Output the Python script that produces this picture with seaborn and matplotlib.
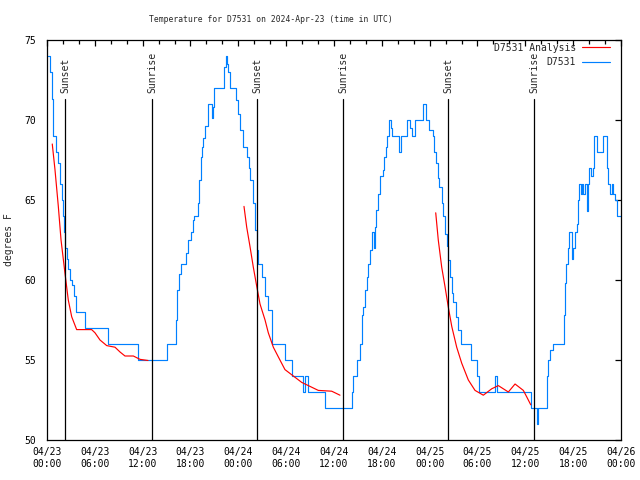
"""
plot.py
Station temperature vs analysis, with sunrise/sunset markers (gnuplot-style look).
"""

import matplotlib
matplotlib.use("Agg")
import matplotlib.pyplot as plt
import matplotlib.dates as mdates
import matplotlib.transforms as mtransforms
import pandas as pd
import seaborn as sns

START = pd.Timestamp("2024-04-23 00:00")

# observed temperature (hours since start, deg F) -- step changes
obs_hours = [
    0.16, 0.38, 0.59, 0.79, 1.13, 1.42, 1.63, 1.84, 2.01, 2.17, 2.32, 2.47, 2.63,
    2.89, 3.17, 3.39, 3.60, 4.77, 7.69, 11.45, 15.09, 16.12, 16.31, 16.56, 16.77,
    17.44, 17.69, 18.03, 18.35, 18.48, 18.98, 19.10, 19.28, 19.48, 19.61, 19.82,
    20.16, 20.23, 20.64, 20.76, 20.95, 22.24, 22.49, 22.62, 22.74, 22.96, 23.71,
    23.96, 24.21, 24.59, 25.05, 25.28, 25.46, 25.80, 26.09, 26.31, 26.51, 26.93,
    27.35, 27.76, 28.19, 29.85, 30.70, 32.15, 32.36, 32.78, 34.87, 38.22, 38.42,
    38.85, 39.26, 39.48, 39.68, 39.89, 40.10, 40.30, 40.52, 40.73, 40.81, 40.98,
    41.11, 41.31, 41.52, 41.73, 42.11, 42.27, 42.52, 42.69, 42.94, 43.11, 43.24,
    44.19, 44.41, 45.20, 45.53, 45.75, 46.16, 47.20, 47.54, 47.92, 48.38, 48.58,
    48.80, 49.01, 49.21, 49.51, 49.67, 49.92, 50.14, 50.34, 50.55, 50.77, 50.97,
    51.30, 51.59, 51.93, 53.15, 53.90, 54.19, 56.20, 56.41, 60.68, 61.43, 61.63,
    62.68, 62.88, 63.10, 63.43, 64.85, 64.98, 65.07, 65.39, 65.52, 65.82, 66.02,
    66.23, 66.45, 66.65, 66.77, 66.95, 67.07, 67.27, 67.49, 67.70, 67.90, 68.03,
    68.24, 68.45, 68.65, 68.95, 69.71, 70.21, 70.41, 70.62, 70.84, 71.04, 71.25,
    71.46, 72.00,
]
obs_temp = [
    74, 73, 71.3, 69, 68, 67.3, 66, 65, 64, 63, 62, 61.3, 60.7,
    60, 59.7, 59, 58, 57, 56, 55, 56, 57.5, 59.4, 60.4, 61,
    61.7, 62.5, 63, 63.75, 64, 64.8, 66.25, 67.7, 68.3, 68.85, 69.6,
    70.5, 71, 70.1, 70.8, 72, 73.3, 74, 73.5, 73, 72, 71.25,
    70.4, 69.4, 68.3, 67.7, 67, 66.25, 64.8, 63.1, 61.9, 61, 60.2,
    59, 58.1, 56, 55, 54, 53, 54, 53, 52, 53, 54,
    55, 56, 57.8, 58.3, 59.4, 60.2, 61, 61.9, 62.7, 63, 62,
    63.3, 64.4, 65.4, 66.5, 66.9, 67.7, 68.3, 69, 70, 69.5, 69,
    68, 69, 70, 69.5, 69, 70, 71, 70, 69.4, 69, 68,
    67.3, 66.4, 65.8, 64.8, 64, 62.9, 62.1, 61.25, 60.2, 59.2, 58.6,
    57.7, 56.9, 56, 55, 54, 53, 54, 53, 52, 51, 52,
    54, 55, 55.6, 56, 57.8, 59.8, 61, 62, 63, 61.3, 62,
    63, 63.5, 65, 66, 65.4, 66, 65.4, 66, 64.3, 66, 67,
    66.5, 67, 69, 68, 69, 67, 66, 65.4, 66, 65.4, 65,
    64, 64,
]

# analysis curves, one per evening
ana1_hours = [0.66, 1.00, 1.42, 1.76, 2.26, 2.67, 3.10, 3.72, 5.60, 6.02, 6.65,
              7.49, 8.53, 9.16, 9.78, 10.83, 11.67, 12.67]
ana1_temp = [68.5, 66.9, 64.6, 62.5, 60.4, 58.75, 57.7, 56.9, 56.9, 56.7, 56.25,
             55.9, 55.8, 55.5, 55.25, 55.25, 55.04, 54.97]
ana2_hours = [24.71, 25.05, 25.46, 25.88, 26.31, 26.72, 27.35, 27.76, 28.39, 29.01,
              29.85, 30.90, 31.95, 33.20, 34.03, 35.71, 36.13, 36.75]
ana2_temp = [64.6, 63.3, 62.1, 60.8, 59.6, 58.5, 57.5, 56.7, 55.8, 55.2,
             54.4, 54.0, 53.6, 53.3, 53.1, 53.05, 52.95, 52.8]
ana3_hours = [48.76, 49.08, 49.51, 49.92, 50.34, 50.77, 51.39, 52.02, 52.85, 53.69,
              54.73, 55.78, 56.61, 57.87, 58.71, 59.75, 60.17, 60.68]
ana3_temp = [64.2, 62.5, 60.8, 59.6, 58.3, 57.1, 55.8, 54.8, 53.75, 53.1,
             52.8, 53.2, 53.4, 53.0, 53.5, 53.1, 52.7, 52.2]

sunset_hours = [2.26, 26.34, 50.30]
sunrise_hours = [13.17, 37.13, 61.09]

RED = "#ff0000"
BLUE = "#0080ff"


def to_time(hours):
    return [START + pd.Timedelta(hours=h) for h in hours]


sns.set_theme(style="white")
plt.rcParams["font.family"] = ["DejaVu Sans Mono", "DejaVu Sans"]
plt.rcParams["xtick.direction"] = "in"
plt.rcParams["ytick.direction"] = "in"

fig = plt.figure(figsize=(6.4, 4.8), dpi=100)
ax = fig.add_axes([47 / 640, 40 / 480, 574 / 640, 400 / 480])

obs = pd.DataFrame({"time": to_time(obs_hours), "temp": obs_temp})
sns.lineplot(data=obs, x="time", y="temp", ax=ax, color=BLUE, lw=0.85,
             drawstyle="steps-post", estimator=None, label="D7531")

for i, (hh, tt) in enumerate([(ana1_hours, ana1_temp),
                              (ana2_hours, ana2_temp),
                              (ana3_hours, ana3_temp)]):
    seg = pd.DataFrame({"time": to_time(hh), "temp": tt})
    sns.lineplot(data=seg, x="time", y="temp", ax=ax, color=RED, lw=0.85,
                 estimator=None, label="D7531 Analysis" if i == 0 else None)

trans = mtransforms.blended_transform_factory(ax.transData, ax.transAxes)
for name, hours in [("Sunset", sunset_hours), ("Sunrise", sunrise_hours)]:
    for t in to_time(hours):
        ax.axvline(t, ymin=0, ymax=0.852, color="black", lw=0.9)
        ax.text(mdates.date2num(t) + 0.004, 0.868, name, transform=trans,
                rotation=90, ha="center", va="bottom", fontsize=7)

ax.set_xlim(START, START + pd.Timedelta(hours=72))
ax.set_ylim(50, 75)
ax.set_yticks([50, 55, 60, 65, 70, 75])
ax.xaxis.set_major_locator(mdates.HourLocator(byhour=[0, 6, 12, 18]))
ax.xaxis.set_major_formatter(mdates.DateFormatter("%m/%d\n%H:%M"))
ax.xaxis.set_minor_locator(mdates.HourLocator(byhour=range(0, 24, 2)))
ax.tick_params(which="both", top=True, right=True, colors="black",
               labelsize=7, width=0.9)
ax.tick_params(which="major", length=4)
ax.tick_params(which="minor", length=3)
ax.tick_params(axis="x", pad=5)
ax.tick_params(axis="y", pad=8)
for s in ax.spines.values():
    s.set_color("black")
    s.set_linewidth(0.9)

ax.set_xlabel("")
ax.set_ylabel("degrees F", fontsize=7)
ax.yaxis.set_label_coords(-0.058, 0.5)

# gnuplot centres the title a bit left of the plot area
fig.text(271 / 640, 1 - 19 / 480,
         "Temperature for D7531 on 2024-Apr-23 (time in UTC)",
         fontsize=5.8, ha="center", va="center")

handles, labels = ax.get_legend_handles_labels()
order = [labels.index("D7531 Analysis"), labels.index("D7531")]
ax.legend([handles[k] for k in order], [labels[k] for k in order],
          loc="upper right", bbox_to_anchor=(0.981, 0.993), frameon=False,
          markerfirst=False, fontsize=7, handlelength=2.9, handletextpad=0.6,
          borderaxespad=0, borderpad=0, labelspacing=0.45)

fig.savefig("out.png", dpi=100)
plt.close(fig)
